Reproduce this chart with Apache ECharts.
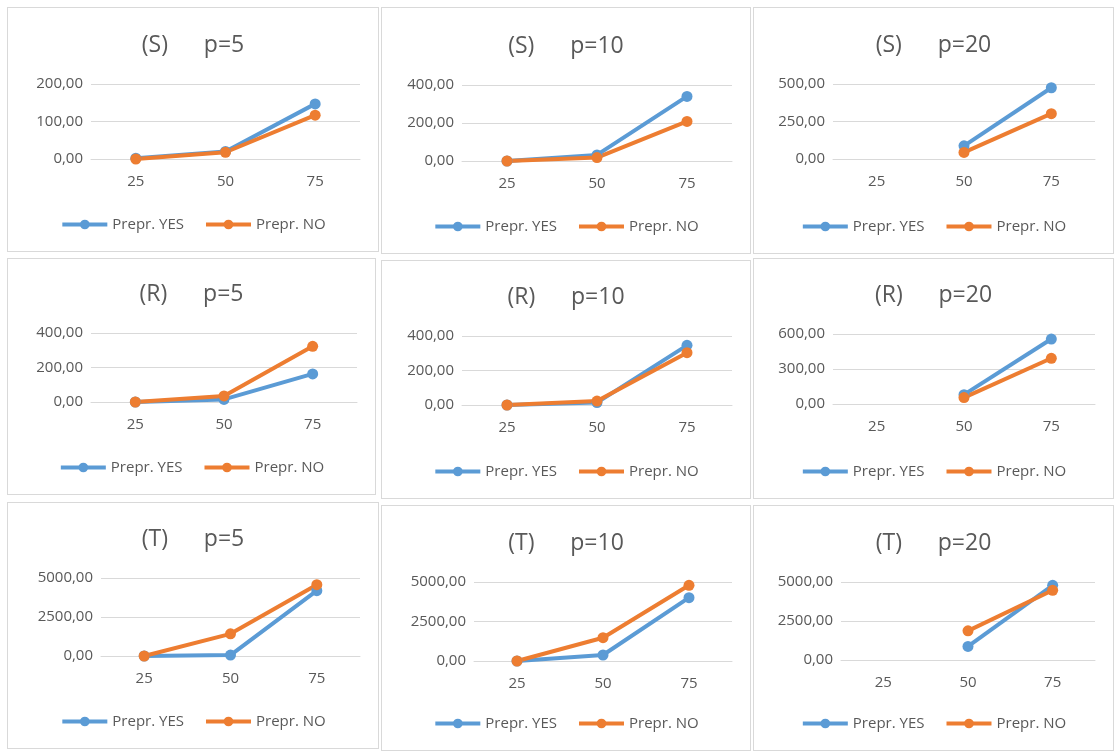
<!DOCTYPE html>
<html>
<head>
<meta charset="utf-8">
<script src="https://cdn.jsdelivr.net/npm/echarts@6/dist/echarts.min.js"></script>
<style>
  html, body { margin: 0; padding: 0; background: #fff; }
  #wrap { position: relative; width: 1115px; height: 752px; overflow: hidden; }
  .panel { position: absolute; border: 1.5px solid #d9d9d9; box-sizing: border-box; background: #fff; }
</style>
</head>
<body>
<div id="wrap"></div>
<script>
"use strict";
const categories = ['25', '50', '75'];
const seriesNames = ['Prepr. YES', 'Prepr. NO'];
const titles = ['(S)      p=5', '(S)      p=10', '(S)      p=20',
                '(R)      p=5', '(R)      p=10', '(R)      p=20',
                '(T)      p=5', '(T)      p=10', '(T)      p=20'];

const yesS5 = [2, 20, 147];
const noS5 = [0, 18, 117];
const yesS10 = [0, 32, 340];
const noS10 = [0, 18, 208];
const yesS20 = [null, 88, 475];
const noS20 = [null, 44, 302];
const yesR5 = [0, 15, 163];
const noR5 = [0, 35, 323];
const yesR10 = [0, 14, 346];
const noR10 = [0, 23, 303];
const yesR20 = [null, 80, 557];
const noR20 = [null, 55, 392];
const yesT5 = [0, 60, 4190];
const noT5 = [0, 1420, 4570];
const yesT10 = [0, 380, 4010];
const noT10 = [0, 1475, 4790];
const yesT20 = [null, 870, 4790];
const noT20 = [null, 1870, 4470];

const yMax = [200, 400, 500, 400, 400, 600, 5000, 5000, 5000];
const yStep = [100, 200, 250, 200, 200, 300, 2500, 2500, 2500];

const yesData = [yesS5, yesS10, yesS20, yesR5, yesR10, yesR20, yesT5, yesT10, yesT20];
const noData = [noS5, noS10, noS20, noR5, noR10, noR20, noT5, noT10, noT20];

// panel boxes: left, top, width, height, grid left, grid top, grid height
const boxes = [
  [7, 7, 372, 245, 83, 76, 75],
  [381, 7, 370, 247, 80, 77, 76],
  [753, 7, 361, 247, 79, 76, 75],
  [7, 258, 369, 237, 83, 74, 69],
  [381, 260, 370, 239, 80, 75, 69],
  [753, 258, 361, 241, 79, 75, 70],
  [7, 502, 372, 247, 93, 75, 78],
  [381, 505, 370, 246, 92, 76, 79],
  [753, 505, 361, 246, 87, 76, 78]
];

const blue = '#5b9bd5';
const orange = '#ed7d31';
const textColor = '#595959';
const font = 'Open Sans, Liberation Sans, sans-serif';

const wrap = document.getElementById('wrap');
boxes.forEach((b, i) => {
  const div = document.createElement('div');
  div.className = 'panel';
  div.style.left = b[0] + 'px';
  div.style.top = b[1] + 'px';
  div.style.width = b[2] + 'px';
  div.style.height = b[3] + 'px';
  wrap.appendChild(div);
  const chart = echarts.init(div);
  const mkSeries = (name, data, color) => ({
    name: name,
    type: 'line',
    data: data,
    symbol: 'circle',
    symbolSize: 11,
    connectNulls: false,
    lineStyle: { color: color, width: 4 },
    itemStyle: { color: color },
    animation: false
  });
  chart.setOption({
    title: {
      text: titles[i],
      left: 'center',
      top: b[5] - 55,
      textStyle: { color: textColor, fontSize: 23, fontWeight: 'normal', fontFamily: font }
    },
    legend: {
      data: seriesNames,
      bottom: 14,
      itemWidth: 45,
      itemHeight: 12,
      itemGap: 20,
      lineStyle: { width: 4 },
      textStyle: { color: textColor, fontSize: 15, fontFamily: font }
    },
    grid: { left: b[4], right: 18, top: b[5], height: b[6], containLabel: false },
    xAxis: {
      type: 'category',
      data: categories,
      boundaryGap: true,
      axisLine: { lineStyle: { color: '#d9d9d9', width: 1 } },
      axisTick: { show: false },
      axisLabel: { color: textColor, fontSize: 15, margin: 15, fontFamily: font }
    },
    yAxis: {
      type: 'value',
      min: 0,
      max: yMax[i],
      interval: yStep[i],
      axisLine: { show: false },
      axisTick: { show: false },
      splitLine: { lineStyle: { color: '#d9d9d9', width: 1 } },
      axisLabel: {
        color: textColor, fontSize: 15, margin: 8, fontFamily: font,
        formatter: v => v.toFixed(2).replace('.', ',')
      }
    },
    series: [
      mkSeries(seriesNames[0], yesData[i], blue),
      mkSeries(seriesNames[1], noData[i], orange)
    ]
  });
});
</script>
</body>
</html>
